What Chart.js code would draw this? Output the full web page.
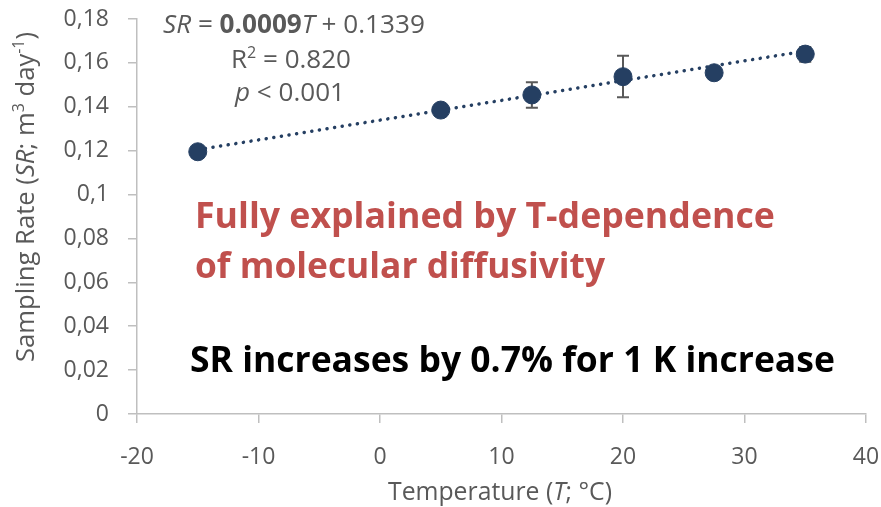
<!DOCTYPE html>
<html><head><meta charset="utf-8">
<script src="https://cdn.jsdelivr.net/npm/chart.js@4"></script>
<style>html,body{margin:0;padding:0;background:#fff}#wrap{width:881px;height:507px;position:relative}</style>
</head><body><div id="wrap"><canvas id="c" width="881" height="507"></canvas></div>
<script>
// ---- data ----
const temperatures = [-15, 5, 12.5, 20, 27.5, 35];
const samplingRates = [0.1195, 0.1385, 0.1454, 0.1537, 0.1555, 0.1640];
const errorLow = [null, null, 0.1396, 0.1443, null, 0.1605];
const errorHigh = [null, null, 0.1512, 0.1633, null, 0.1672];
const trendX = [-15, 35];
const trendY = [0.1204, 0.1654];
const xTicks = [-20, -10, 0, 10, 20, 30, 40];
const yTicks = [0, 0.02, 0.04, 0.06, 0.08, 0.1, 0.12, 0.14, 0.16, 0.18];

const FONT = "'Open Sans', 'Noto Sans', sans-serif";
const GRAY = '#595959';
const BLUE = '#253f62';

// parts: [{t, it, b, sup}]; if width given, font size is fitted to that width
function drawRich(ctx, parts, x, y, size, align, width) {
  const measure = (sz) => {
    let total = 0;
    const info = parts.map(p => {
      const s = p.sup ? sz * 0.62 : sz;
      const f = (p.it ? 'italic ' : '') + (p.b ? 'bold ' : '') + s.toFixed(2) + 'px ' + FONT;
      ctx.font = f;
      const w = ctx.measureText(p.t).width;
      total += w;
      return {f, w};
    });
    return {total, info};
  };
  let m = measure(size);
  if (width) { size = size * width / m.total; m = measure(size); }
  let cx = align === 'center' ? x - m.total / 2 : (align === 'right' ? x - m.total : x);
  ctx.textBaseline = 'alphabetic';
  ctx.textAlign = 'left';
  parts.forEach((p, i) => {
    ctx.font = m.info[i].f;
    ctx.fillText(p.t, cx, p.sup ? y - size * 0.38 : y);
    cx += m.info[i].w;
  });
}

const extras = {
  id: 'extras',
  beforeDatasetsDraw(chart) {
    const ctx = chart.ctx, xs = chart.scales.x, ys = chart.scales.y;
    ctx.save();
    ctx.strokeStyle = GRAY; ctx.lineWidth = 2;
    temperatures.forEach((t, i) => {
      if (errorLow[i] == null) return;
      const px = xs.getPixelForValue(t);
      const lo = ys.getPixelForValue(errorLow[i]);
      const hi = ys.getPixelForValue(errorHigh[i]);
      ctx.beginPath();
      ctx.moveTo(px, lo); ctx.lineTo(px, hi);
      ctx.moveTo(px - 6, lo); ctx.lineTo(px + 6, lo);
      ctx.moveTo(px - 6, hi); ctx.lineTo(px + 6, hi);
      ctx.stroke();
    });
    ctx.restore();
  },
  afterDraw(chart) {
    const ctx = chart.ctx;
    ctx.save();
    ctx.fillStyle = GRAY;
    drawRich(ctx, [{t:'SR', it:1}, {t:' = '}, {t:'0.0009', b:1}, {t:'T', it:1}, {t:' + 0.1339'}], 163, 33, 24, 'left', 262);
    drawRich(ctx, [{t:'R'}, {t:'2', sup:1}, {t:' = 0.820'}], 231, 68, 24, 'left', 120);
    drawRich(ctx, [{t:'p', it:1}, {t:' < 0.001'}], 235, 101, 24, 'left', 110);
    // axis titles
    drawRich(ctx, [{t:'Temperature ('}, {t:'T', it:1}, {t:'; °C)'}], 500, 500, 22, 'center', 224);
    ctx.translate(34, 197);
    ctx.rotate(-Math.PI / 2);
    drawRich(ctx, [{t:'Sampling Rate ('}, {t:'SR', it:1}, {t:'; m'}, {t:'3', sup:1}, {t:' day'}, {t:'-1', sup:1}, {t:')'}], 0, 0, 22, 'center', 330);
    ctx.setTransform(1, 0, 0, 1, 0, 0);
    ctx.fillStyle = '#c0504d';
    drawRich(ctx, [{t:'Fully explained by T-dependence', b:1}], 195, 228, 35, 'left', 580);
    drawRich(ctx, [{t:'of molecular diffusivity', b:1}], 195, 278, 35, 'left', 410);
    ctx.fillStyle = '#000000';
    drawRich(ctx, [{t:'SR increases by 0.7% for 1 K increase', b:1}], 190, 372, 35, 'left', 645);
    ctx.restore();
  }
};

new Chart(document.getElementById('c'), {
  type: 'scatter',
  data: {
    datasets: [
      {
        label: 'Trend',
        data: trendX.map((x, i) => ({x, y: trendY[i]})),
        showLine: true,
        borderColor: BLUE,
        borderWidth: 3.5,
        borderDash: [0.1, 7.6],
        borderCapStyle: 'round',
        pointRadius: 0,
        fill: false,
        order: 2
      },
      {
        label: 'Sampling rate',
        data: temperatures.map((x, i) => ({x, y: samplingRates[i]})),
        backgroundColor: BLUE,
        borderColor: BLUE,
        pointRadius: 9,
        pointHoverRadius: 9,
        order: 1
      }
    ]
  },
  options: {
    responsive: false,
    animation: false,
    events: [],
    layout: { padding: { top: 19, right: 15, left: 0, bottom: 0 } },
    plugins: { legend: { display: false }, tooltip: { enabled: false } },
    scales: {
      x: {
        type: 'linear', min: -20, max: 40,
        afterBuildTicks: s => { s.ticks = xTicks.map(v => ({value: v})); },
        afterFit: s => { s.height = 93; s.paddingLeft = 0; s.paddingRight = 0; },
        grid: { drawOnChartArea: false, drawTicks: true, tickLength: 9, color: '#bfbfbf', lineWidth: 1.5 },
        border: { color: '#bfbfbf', width: 1.5 },
        ticks: { color: GRAY, font: { family: FONT, size: 23 }, padding: 21 }
      },
      y: {
        type: 'linear', min: 0, max: 0.18,
        afterBuildTicks: s => { s.ticks = yTicks.map(v => ({value: v})); },
        afterFit: s => { s.width = 137; s.paddingTop = 0; s.paddingBottom = 0; },
        grid: { drawOnChartArea: false, drawTicks: true, tickLength: 9, color: '#bfbfbf', lineWidth: 1.5 },
        border: { color: '#bfbfbf', width: 1.5 },
        ticks: { color: GRAY, font: { family: FONT, size: 23 }, padding: 19,
          callback: v => String(Number(v.toFixed(2))).replace('.', ',') }
      }
    }
  },
  plugins: [extras]
});
</script></body></html>
